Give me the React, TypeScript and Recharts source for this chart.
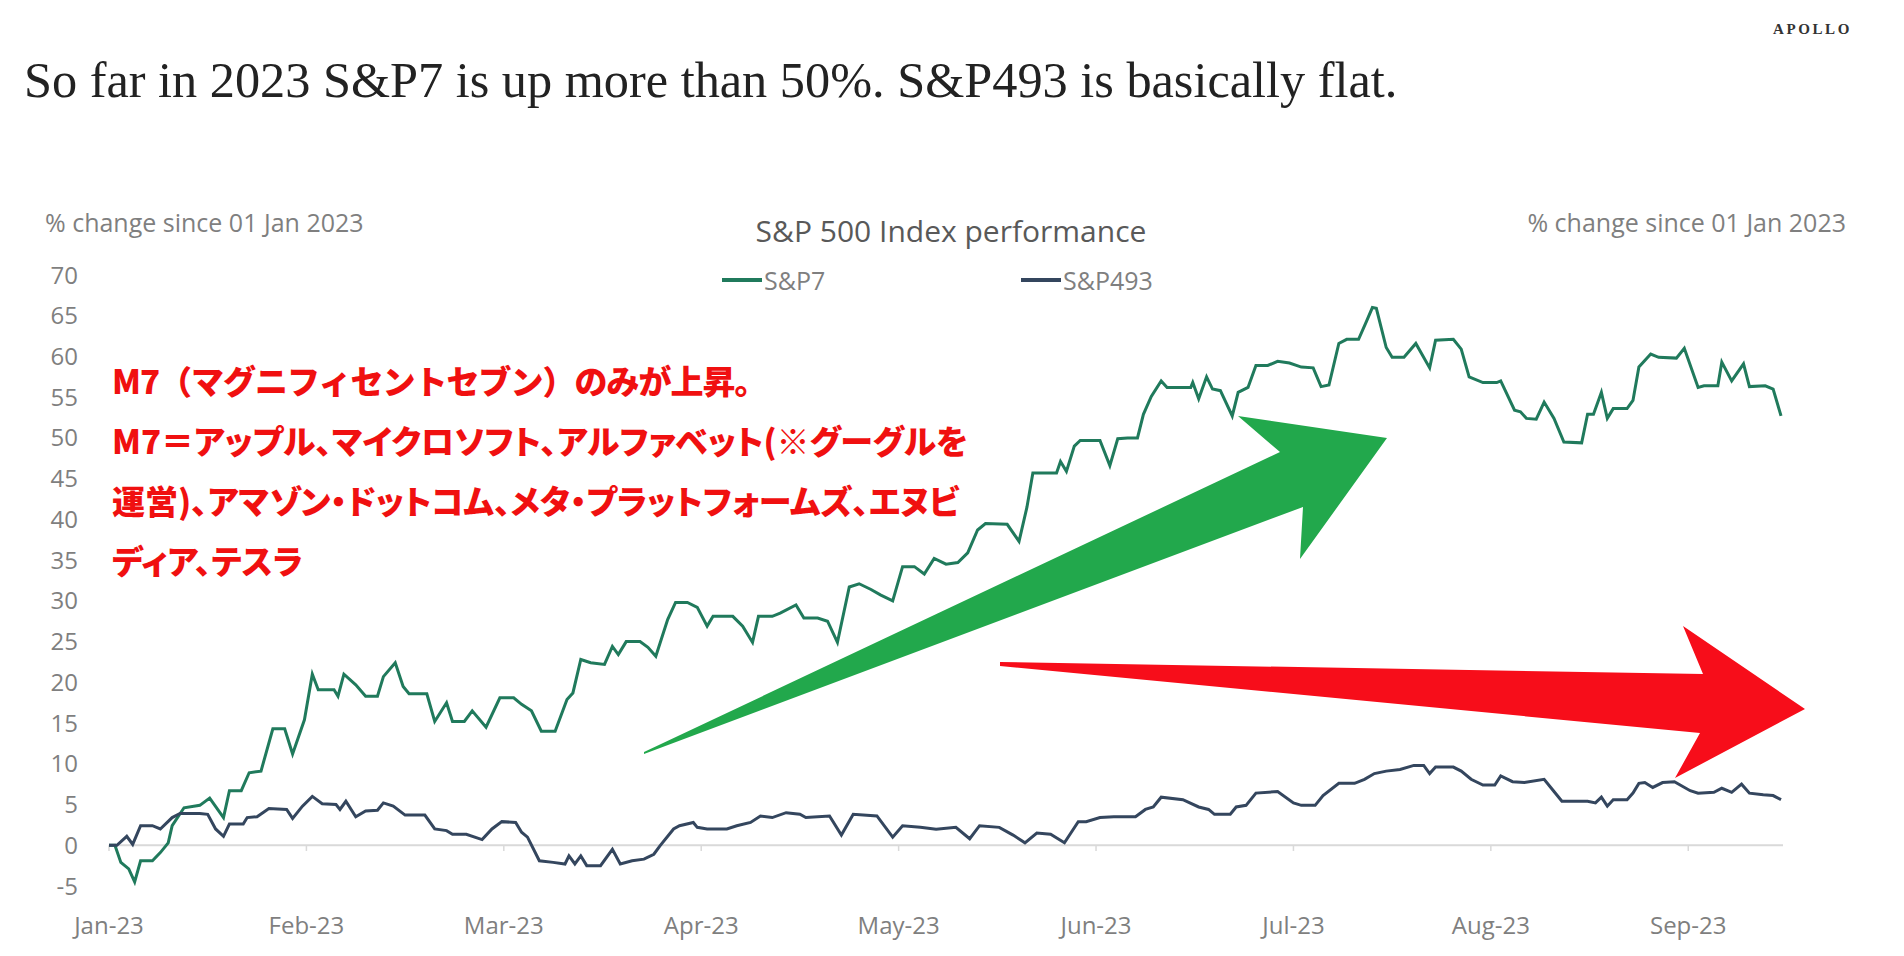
import React from "react";
import { LineChart, Line, XAxis, YAxis, ReferenceLine, Legend } from "recharts";

const monthLabels = ["Jan-23", "Feb-23", "Mar-23", "Apr-23", "May-23", "Jun-23", "Jul-23", "Aug-23", "Sep-23"];
const monthTicks = [0, 1, 2, 3, 4, 5, 6, 7, 8];
const yTicks = [-5, 0, 5, 10, 15, 20, 25, 30, 35, 40, 45, 50, 55, 60, 65, 70];
const seriesNames = ["S&P7", "S&P493"];

// position in months since 01 Jan 2023
const sp7Months = [
  0, 0.03, 0.06, 0.1, 0.13, 0.16, 0.22, 0.26, 0.3, 0.32,
  0.38, 0.46, 0.51, 0.58, 0.61, 0.67, 0.71, 0.77, 0.83, 0.89,
  0.93, 0.99, 1.03, 1.06, 1.14, 1.16, 1.19, 1.25, 1.3, 1.36,
  1.39, 1.45, 1.49, 1.52, 1.61, 1.65, 1.71, 1.74, 1.8, 1.84,
  1.91, 1.98, 2.05, 2.09, 2.14, 2.19, 2.26, 2.32, 2.35, 2.39,
  2.44, 2.51, 2.55, 2.58, 2.62, 2.69, 2.73, 2.77, 2.83, 2.87,
  2.93, 2.98, 3.03, 3.06, 3.16, 3.21, 3.26, 3.29, 3.36, 3.4,
  3.48, 3.52, 3.59, 3.64, 3.69, 3.75, 3.8, 3.86, 3.91, 3.97,
  4.02, 4.08, 4.13, 4.18, 4.24, 4.3, 4.35, 4.4, 4.44, 4.55,
  4.61, 4.65, 4.68, 4.8, 4.82, 4.85, 4.89, 4.92, 5.02, 5.07,
  5.11, 5.16, 5.21, 5.24, 5.28, 5.33, 5.36, 5.48, 5.49, 5.52,
  5.56, 5.59, 5.63, 5.69, 5.72, 5.77, 5.81, 5.87, 5.92, 5.98,
  6.04, 6.1, 6.14, 6.18, 6.23, 6.27, 6.33, 6.37, 6.4, 6.42,
  6.47, 6.5, 6.56, 6.62, 6.69, 6.72, 6.81, 6.85, 6.89, 6.96,
  7.03, 7.05, 7.12, 7.15, 7.18, 7.23, 7.27, 7.32, 7.37, 7.46,
  7.49, 7.52, 7.56, 7.59, 7.62, 7.69, 7.72, 7.75, 7.81, 7.85,
  7.94, 7.98, 8.05, 8.08, 8.15, 8.17, 8.22, 8.28, 8.31, 8.39,
  8.43, 8.47,
];
const sp7Values = [
  0, 0, -2.1, -2.9, -4.5, -1.9, -1.9, -0.9, 0.3, 2.4,
  4.6, 4.9, 5.8, 3.4, 6.7, 6.7, 8.9, 9.1, 14.3, 14.3,
  11.2, 15.4, 21, 19.1, 19.1, 18.3, 21, 19.7, 18.3, 18.3,
  20.7, 22.4, 19.5, 18.6, 18.6, 15.2, 17.5, 15.2, 15.2, 16.5,
  14.5, 18.1, 18.1, 17.3, 16.5, 14, 14, 17.9, 18.7, 22.8,
  22.4, 22.2, 24.4, 23.4, 25, 25, 24.3, 23.2, 27.7, 29.8,
  29.8, 29.2, 26.9, 28.1, 28.1, 26.9, 24.9, 28.1, 28.1, 28.5,
  29.5, 27.9, 27.9, 27.5, 24.9, 31.7, 32.1, 31.4, 30.7, 30,
  34.2, 34.2, 33.3, 35.2, 34.5, 34.7, 35.9, 38.7, 39.5, 39.4,
  37.3, 41.5, 45.7, 45.7, 47.1, 45.9, 49, 49.7, 49.7, 46.6,
  49.9, 50, 50, 52.9, 55.1, 57, 56.2, 56.2, 56.8, 54.8,
  57.5, 56, 55.8, 52.7, 55.6, 56.2, 58.9, 58.9, 59.4, 59.2,
  58.7, 58.6, 56.3, 56.5, 61.6, 62.1, 62.1, 64.3, 66, 65.9,
  61.1, 59.9, 59.9, 61.6, 58.6, 62, 62.1, 60.9, 57.5, 56.8,
  56.8, 57, 53.4, 53.2, 52.4, 52.3, 54.4, 52.4, 49.5, 49.4,
  52.9, 52.9, 55.6, 52.4, 53.6, 53.6, 54.6, 58.7, 60.3, 59.9,
  59.8, 61, 56.2, 56.4, 56.4, 59.3, 57, 59.1, 56.3, 56.4,
  56, 52.7,
];

const sp493Months = [
  0, 0.04, 0.09, 0.12, 0.16, 0.22, 0.26, 0.32, 0.36, 0.46,
  0.5, 0.54, 0.58, 0.61, 0.68, 0.7, 0.75, 0.81, 0.9, 0.93,
  0.98, 1.03, 1.08, 1.15, 1.17, 1.2, 1.25, 1.3, 1.36, 1.39,
  1.44, 1.5, 1.6, 1.65, 1.71, 1.74, 1.81, 1.89, 1.94, 1.99,
  2.06, 2.09, 2.12, 2.18, 2.25, 2.31, 2.33, 2.36, 2.39, 2.42,
  2.49, 2.55, 2.59, 2.65, 2.71, 2.76, 2.79, 2.86, 2.89, 2.96,
  2.98, 3.03, 3.13, 3.18, 3.25, 3.3, 3.36, 3.43, 3.5, 3.53,
  3.65, 3.71, 3.77, 3.89, 3.97, 4.02, 4.11, 4.19, 4.29, 4.36,
  4.41, 4.51, 4.58, 4.64, 4.7, 4.77, 4.84, 4.91, 4.95, 5.02,
  5.09, 5.2, 5.25, 5.29, 5.33, 5.44, 5.52, 5.57, 5.6, 5.68,
  5.71, 5.76, 5.81, 5.92, 6.0, 6.04, 6.11, 6.15, 6.23, 6.31,
  6.36, 6.41, 6.47, 6.54, 6.61, 6.66, 6.69, 6.72, 6.81, 6.85,
  6.9, 6.96, 7.02, 7.05, 7.11, 7.17, 7.27, 7.32, 7.36, 7.49,
  7.53, 7.56, 7.59, 7.62, 7.69, 7.72, 7.75, 7.78, 7.82, 7.87,
  7.93, 8.01, 8.05, 8.13, 8.17, 8.22, 8.27, 8.31, 8.38, 8.43,
  8.47,
];
const sp493Values = [
  0, 0, 1.1, 0.1, 2.4, 2.4, 2, 3.4, 3.9, 3.9,
  3.8, 2, 1.1, 2.6, 2.6, 3.4, 3.5, 4.5, 4.4, 3.3,
  4.8, 6, 5.1, 5, 4.4, 5.4, 3.5, 4.2, 4.3, 5.2,
  4.8, 3.7, 3.7, 2, 1.8, 1.35, 1.35, 0.7, 2, 2.9,
  2.8, 1.6, 1, -1.9, -2.1, -2.3, -1.3, -2.3, -1.3, -2.5,
  -2.5, -0.5, -2.3, -1.9, -1.7, -1.1, -0.1, 2, 2.4, 2.8,
  2.2, 2, 2, 2.4, 2.8, 3.6, 3.4, 4, 3.8, 3.4,
  3.6, 1.25, 3.8, 3.6, 1, 2.4, 2.2, 1.96, 2.2, 0.8,
  2.4, 2.2, 1.25, 0.3, 1.5, 1.35, 0.3, 2.9, 2.9, 3.4,
  3.5, 3.5, 4.4, 4.7, 5.9, 5.6, 4.7, 4.4, 3.8, 3.8,
  4.7, 4.9, 6.4, 6.6, 5.2, 4.9, 4.9, 6.1, 7.6, 7.6,
  8.1, 8.8, 9.1, 9.3, 9.8, 9.8, 8.8, 9.6, 9.6, 9.1,
  8.1, 7.4, 7.4, 8.5, 7.8, 7.7, 8.1, 6.6, 5.4, 5.4,
  5.2, 5.9, 4.8, 5.6, 5.6, 6.4, 7.6, 7.7, 7.1, 7.7,
  7.8, 6.7, 6.4, 6.5, 7, 6.5, 7.5, 6.4, 6.2, 6.1,
  5.6,
];

const toPoints = (months: number[], values: number[]) =>
  months.map((t, i) => ({ t, v: values[i] }));

const sp7Data = toPoints(sp7Months, sp7Values);
const sp493Data = toPoints(sp493Months, sp493Values);

const GREEN = "#207a5c";
const NAVY = "#34465e";
const GREY = "#7f7f7f";
const SANS = "'Open Sans', 'Noto Sans', sans-serif";
const JP = "'Noto Sans CJK JP', sans-serif";

const legendLefts = [722, 1021];

const renderLegend = (props: any) => {
  const items = [...(props.payload || [])].sort(
    (a: any, b: any) => seriesNames.indexOf(a.value) - seriesNames.indexOf(b.value)
  );
  return (
    <div style={{ position: "relative", height: 36 }}>
      {items.map((item: any, i: number) => (
        <div
          key={item.value}
          style={{
            position: "absolute",
            left: legendLefts[i],
            top: 0,
            display: "flex",
            alignItems: "center",
            height: 36,
            fontFamily: SANS,
            fontSize: 25,
            color: GREY,
          }}
        >
          <span style={{ display: "inline-block", width: 40, height: 4, background: item.color, marginRight: 2 }} />
          {item.value}
        </div>
      ))}
    </div>
  );
};

const abs = (extra: React.CSSProperties): React.CSSProperties => ({
  position: "absolute",
  whiteSpace: "nowrap",
  lineHeight: 1,
  ...extra,
});

const App: React.FC = () => {
  const tickStyle = { fill: GREY, fontSize: 24, fontFamily: SANS };

  return (
    <div style={{ position: "absolute", left: 0, top: 0, width: 1904, height: 956, background: "#fff", overflow: "hidden" }}>
      <LineChart width={1904} height={956} margin={{ top: 275, right: 0, bottom: 0, left: 0 }}>
        <XAxis
          dataKey="t"
          type="number"
          domain={[0, 8.48]}
          ticks={monthTicks}
          tickFormatter={(m: number) => monthLabels[m]}
          axisLine={false}
          tickLine={false}
          tickSize={0}
          tickMargin={31}
          height={70}
          tick={tickStyle}
          interval={0}
        />
        <YAxis
          yAxisId="left"
          domain={[-5, 70]}
          ticks={yTicks}
          axisLine={false}
          tickLine={false}
          tickSize={0}
          tickMargin={31}
          width={109}
          tick={tickStyle}
          interval={0}
        />
        <YAxis
          yAxisId="right"
          orientation="right"
          domain={[-5, 70]}
          ticks={yTicks}
          axisLine={false}
          tickLine={false}
          tickSize={0}
          tickMargin={27}
          width={121}
          tick={{ ...tickStyle, textAnchor: "start" }}
          interval={0}
        />
        <ReferenceLine yAxisId="left" y={0} stroke="#d9d9d9" strokeWidth={2} />
        {monthTicks.map((m) => (
          <ReferenceLine
            key={m}
            yAxisId="left"
            segment={[{ x: m, y: 0 }, { x: m, y: -0.7 }]}
            stroke="#d9d9d9"
            strokeWidth={1.5}
          />
        ))}
        <Legend
          verticalAlign="middle"
          align="center"
          content={renderLegend}
          wrapperStyle={{ top: 262, left: 0, width: 1904, height: 36 }}
        />
        <Line
          yAxisId="left"
          data={sp7Data}
          dataKey="v"
          name={seriesNames[0]}
          type="linear"
          stroke={GREEN}
          strokeWidth={3}
          dot={false}
          activeDot={false}
          isAnimationActive={false}
        />
        <Line
          yAxisId="left"
          data={sp493Data}
          dataKey="v"
          name={seriesNames[1]}
          type="linear"
          stroke={NAVY}
          strokeWidth={3}
          dot={false}
          activeDot={false}
          isAnimationActive={false}
        />
      </LineChart>

      {/* headline and labels */}
      <div style={abs({ left: 1773, top: 22, fontFamily: "'Liberation Serif', serif", fontSize: 15, letterSpacing: 2.6, color: "#333", fontWeight: 600 })}>
        APOLLO
      </div>
      <div style={abs({ left: 24, top: 55, fontFamily: "'Liberation Serif', serif", fontSize: 50.3, color: "#222" })}>
        So far in 2023 S&amp;P7 is up more than 50%. S&amp;P493 is basically flat.
      </div>
      <div style={abs({ left: 45, top: 210, fontFamily: SANS, fontSize: 25, color: GREY })}>
        % change since 01 Jan 2023
      </div>
      <div style={abs({ right: 1904 - 1846, top: 210, fontFamily: SANS, fontSize: 25, color: GREY })}>
        % change since 01 Jan 2023
      </div>
      <div style={abs({ left: 951, top: 216, transform: "translateX(-50%)", fontFamily: SANS, fontSize: 30, color: "#595959" })}>
        S&amp;P 500 Index performance
      </div>

      {/* annotation arrows */}
      <svg width={1904} height={956} style={{ position: "absolute", left: 0, top: 0, pointerEvents: "none" }}>
        <polygon points="644,754 1303,507 1300,559 1387,438 1238,416 1280,452 644,752" fill="#22a84c" />
        <polygon points="1000,662 1703,674 1683,626 1805,709 1675,778 1700,733 1000,666" fill="#f70d1a" />
      </svg>

      <div
        style={{
          position: "absolute",
          left: 112,
          top: 350,
          fontFamily: JP,
          fontWeight: 900,
          fontSize: 33,
          lineHeight: "60px",
          color: "#f01010",
          whiteSpace: "nowrap",
          fontFeatureSettings: '"palt"',
        }}
      >
        <div style={{ fontFeatureSettings: "normal", letterSpacing: -1 }}>M7（マグニフィセントセブン）のみが上昇。</div>
        <div>M7＝アップル、マイクロソフト、アルファベット(※グーグルを</div>
        <div>運営)、アマゾン・ドットコム、メタ・プラットフォームズ、エヌビ</div>
        <div>ディア、テスラ</div>
      </div>
    </div>
  );
};

export default App;
